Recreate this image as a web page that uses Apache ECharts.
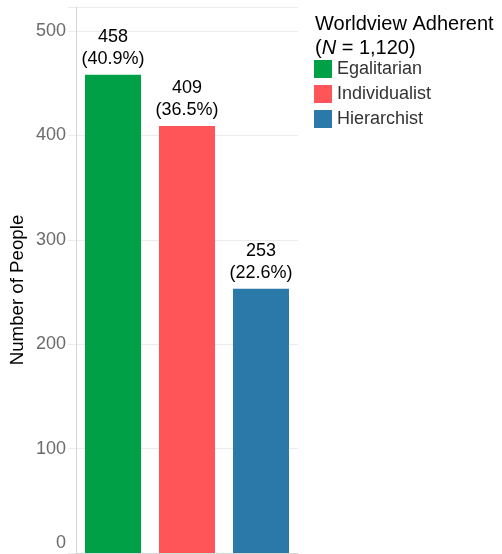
<!DOCTYPE html>
<html>
<head>
<meta charset="utf-8">
<script src="https://cdn.jsdelivr.net/npm/echarts@6/dist/echarts.min.js"></script>
<style>
  html, body { margin: 0; padding: 0; background: #fff; }
  #chart { width: 502px; height: 554px; }
</style>
</head>
<body>
<div id="chart"></div>
<script>
// Worldview groups and head counts
const categories = ['Egalitarian', 'Individualist', 'Hierarchist'];
const counts = [458, 409, 253];
const percents = ['40.9%', '36.5%', '22.6%'];
const colors = ['#00A047', '#FF5558', '#2A79A9'];
const yTicks = [0, 100, 200, 300, 400, 500];

const font = 'Liberation Sans, Arial, sans-serif';

// one stacked series per group so each gets its own legend entry
const series = categories.map((name, i) => ({
  name: name,
  type: 'bar',
  stack: 'all',
  barWidth: '75.7%',
  itemStyle: { color: colors[i] },
  data: categories.map((c, j) => (j === i ? counts[i] : '-')),
  label: {
    show: true,
    position: 'top',
    distance: 5,
    color: '#000',
    fontFamily: font,
    fontSize: 18,
    lineHeight: 22,
    formatter: p => p.value + '\n(' + percents[i] + ')'
  }
}));

const chart = echarts.init(document.getElementById('chart'));
chart.setOption({
  animation: false,
  backgroundColor: '#fff',
  grid: { left: 76, right: 204, top: 7, bottom: 1, containLabel: false, outerBoundsMode: 'none' },
  xAxis: {
    type: 'category',
    data: categories,
    axisLine: { show: true, lineStyle: { color: '#d6d6d6', width: 1 } },
    axisTick: { show: false },
    axisLabel: { show: false }
  },
  yAxis: {
    type: 'value',
    min: 0,
    max: 523,
    interval: 100,
    axisLine: { show: true, lineStyle: { color: '#d6d6d6', width: 1 } },
    axisTick: { show: true, length: 8, lineStyle: { color: '#ebebeb' } },
    splitLine: { show: true, lineStyle: { color: '#ebebeb', width: 1 } },
    axisLabel: {
      color: '#6b6b6b',
      fontFamily: font,
      fontSize: 18,
      margin: 10,
      // the zero label sits just above the bottom edge
      formatter: v => (v === 0 ? '{z|0}' : (yTicks.indexOf(v) >= 0 ? String(v) : '')),
      rich: {
        z: { color: '#6b6b6b', fontFamily: font, fontSize: 18, padding: [0, 0, 20, 0] }
      }
    }
  },
  legend: {
    orient: 'vertical',
    left: 314,
    top: 60,
    padding: 0,
    icon: 'rect',
    itemWidth: 18,
    itemHeight: 18,
    itemGap: 7,
    data: categories,
    textStyle: { color: '#333', fontFamily: font, fontSize: 18 }
  },
  graphic: [
    {
      type: 'text',
      x: 17.5,
      y: 290,
      rotation: Math.PI / 2,
      style: {
        text: 'Number of People',
        fill: '#000',
        font: '18.7px ' + font,
        textAlign: 'center',
        textVerticalAlign: 'middle'
      }
    },
    {
      type: 'text',
      left: 315,
      top: 12,
      style: {
        text: 'Worldview Adherent\n({it|N} = 1,120)',
        fill: '#000',
        font: '20px ' + font,
        lineHeight: 24,
        rich: {
          it: { fontStyle: 'italic', fontSize: 20, lineHeight: 24, fontFamily: font, fill: '#000' }
        }
      }
    }
  ],
  series: series
});
</script>
</body>
</html>
